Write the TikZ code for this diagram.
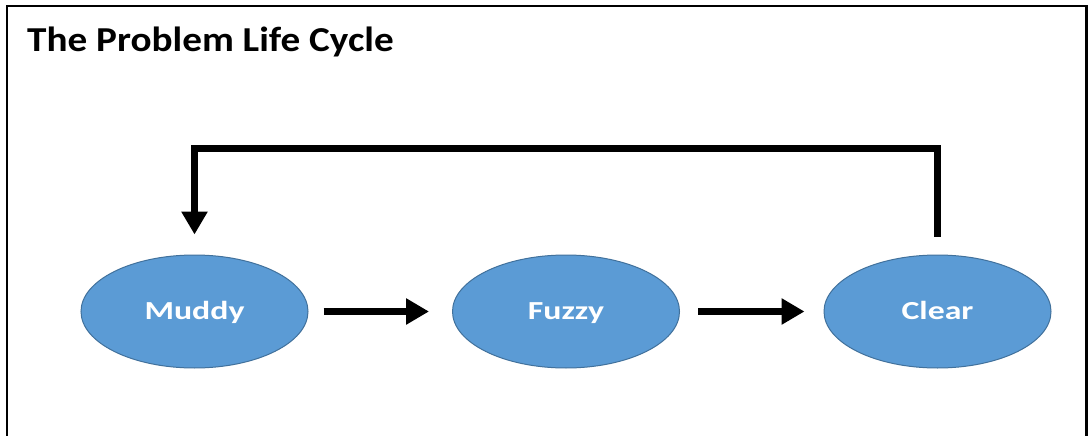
\documentclass[tikz,border=0pt]{standalone}
\usepackage{fontspec}
\setmainfont{Carlito}
\usetikzlibrary{arrows.meta,shapes.geometric}
\definecolor{ellfill}{HTML}{5B9BD5}
\definecolor{elldraw}{HTML}{41719C}
\newcommand{\widetext}[2]{\scalebox{#1}[1]{#2}}
\tikzset{
  stage/.style={ellipse, fill=ellfill, draw=elldraw, line width=1pt,
    minimum width=227pt, minimum height=113pt, inner sep=0pt,
    text height=16.6pt, text depth=0pt,
    text=white, font=\bfseries\fontsize{26}{30}\selectfont},
  flow/.style={line width=7pt, -{Triangle[length=23pt,width=25pt]}},
  frame/.style={line width=2.5pt}
}
\begin{document}
\begin{tikzpicture}[x=1pt,y=-1pt]
\useasboundingbox (0,0) rectangle (1090,436);
\fill[white] (0,0) rectangle (1090,436);
\draw[frame] (7,436) -- (7,6) -- (1086.5,6) -- (1086.5,436);
\node[anchor=base west, inner sep=0pt, font=\bfseries\fontsize{35}{40}\selectfont] (title) at (27,52) {\widetext{1.12}{The Problem Life Cycle}};
\node[stage] (muddy) at (194.5,311.5) {\widetext{1.3}{Muddy}};
\node[stage] (fuzzy) at (566,311.5) {\widetext{1.3}{Fuzzy}};
\node[stage] (clear) at (937.5,311.5) {\widetext{1.3}{Clear}};
\draw[flow] ([xshift=15pt]muddy.east) -- ([xshift=-23pt]fuzzy.west);
\draw[flow] ([xshift=18pt]fuzzy.east) -- ([xshift=-19pt]clear.west);
\draw[flow] ([yshift=18pt]clear.north) |- (194.5,148) coordinate (corner) -- ([yshift=20pt]muddy.north);
\end{tikzpicture}
\end{document}
